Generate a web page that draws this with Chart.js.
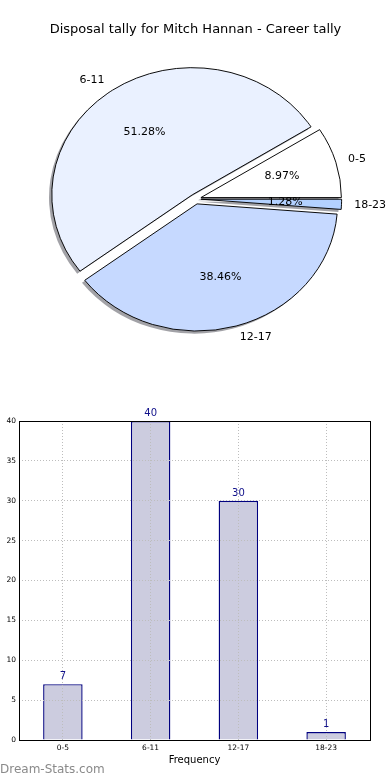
<!DOCTYPE html>
<html><head><meta charset="utf-8">
<script src="https://cdn.jsdelivr.net/npm/chart.js@4"></script>
<style>
html,body{margin:0;padding:0;background:#fff;width:390px;height:780px;overflow:hidden;}
#pieWrap{position:absolute;left:0;top:0;width:390px;height:400px;}
#barWrap{position:absolute;left:0;top:400px;width:390px;height:380px;}
#wm{position:absolute;left:0;top:762px;font:12px "DejaVu Sans";color:#8a8a8a;white-space:nowrap;}
</style></head><body>
<div id="pieWrap"><canvas id="pie"></canvas></div>
<div id="barWrap"><canvas id="bar"></canvas></div>
<div id="wm"></div>
<script>
// ---- data ----
const chartTitle = 'Disposal tally for Mitch Hannan - Career tally';
const categories = ['0-5', '6-11', '12-17', '18-23'];
const counts = [7, 40, 30, 1];
const yTickValues = [0, 5, 10, 15, 20, 25, 30, 35, 40];
const xAxisTitle = 'Frequency';
const watermark = 'Dream-Stats.com';

// ---- styles ----
const pieColors = ['#ffffff', '#eaf1ff', '#c6d9ff', '#b3d1ff'];
const FONT = 'DejaVu Sans';
const EXPLODE = 0.04;
const SY = 0.905;         // vertical squash of the pie (ellipse)
const SHX = -2.8, SHY = 2.6;
const SHADOW = 'rgba(70,70,80,0.5)';

document.getElementById('wm').textContent = watermark;

const total = counts.reduce((a, b) => a + b, 0);
const rev = [3, 2, 1, 0]; // matplotlib draws counter-clockwise from east

function pieCenter(chart) {
  const a = chart.chartArea;
  return {x: (a.left + a.right) / 2, y: (a.top + a.bottom) / 2};
}
function applyEllipse(ctx, c) {
  ctx.translate(c.x, c.y); ctx.scale(1, SY); ctx.translate(-c.x, -c.y);
}

const pieFx = {
  id: 'pieFx',
  afterDatasetUpdate(chart, args) {
    args.meta.data.forEach(el => {
      const m = (el.startAngle + el.endAngle) / 2;
      const d = EXPLODE * el.outerRadius;
      el.x += d * Math.cos(m);
      el.y += d * Math.sin(m);
    });
  },
  beforeDatasetsDraw(chart) {
    const ctx = chart.ctx;
    const c = pieCenter(chart);
    const meta = chart.getDatasetMeta(0);
    meta.data.forEach(el => {
      ctx.save();
      ctx.translate(SHX, SHY);
      applyEllipse(ctx, c);
      const o = el.options;
      el.options = Object.assign({}, o, {backgroundColor: SHADOW, borderColor: 'rgba(0,0,0,0)', borderWidth: 0});
      el.draw(ctx);
      el.options = o;
      ctx.restore();
    });
    ctx.save();
    applyEllipse(ctx, c);
  },
  afterDatasetsDraw(chart) {
    const ctx = chart.ctx;
    ctx.restore();
    const c = pieCenter(chart);
    const meta = chart.getDatasetMeta(0);
    ctx.save();
    ctx.fillStyle = '#000';
    ctx.font = '11px "' + FONT + '"';
    ctx.textBaseline = 'middle';
    meta.data.forEach((el, k) => {
      const i = rev[k];
      const m = (el.startAngle + el.endAngle) / 2;
      const r = el.outerRadius;
      const cs = Math.cos(m), sn = Math.sin(m);
      const P = f => ({x: el.x + f * r * cs, y: c.y + (el.y + f * r * sn - c.y) * SY});
      const p1 = P(0.6);
      ctx.textAlign = 'center';
      ctx.fillText((counts[i] / total * 100).toFixed(2) + '%', p1.x, p1.y);
      const p2 = P(cs > 0 ? 1.09 : 1.1);
      ctx.textAlign = cs > 0 ? 'left' : 'right';
      ctx.fillText(categories[i], p2.x, p2.y);
    });
    ctx.restore();
  }
};

new Chart(document.getElementById('pie'), {
  type: 'pie',
  data: {
    labels: rev.map(i => categories[i]),
    datasets: [{
      data: rev.map(i => counts[i]),
      backgroundColor: rev.map(i => pieColors[i]),
      borderColor: '#000',
      borderWidth: 1,
      radius: 140.5,
      rotation: 90,
      clip: false
    }]
  },
  options: {
    responsive: true, maintainAspectRatio: false, animation: false,
    events: [],
    layout: {padding: {left: 1, right: 0, top: 0, bottom: 39.6}},
    plugins: {
      legend: {display: false},
      tooltip: {enabled: false},
      title: {display: true, text: chartTitle, color: '#000',
        font: {family: FONT, size: 13, weight: 'normal'}, padding: {top: 22, bottom: 0}}
    }
  },
  plugins: [pieFx]
});

const barFx = {
  id: 'barFx',
  afterDraw(chart) {
    const ctx = chart.ctx;
    const a = chart.chartArea;
    ctx.save();
    ctx.strokeStyle = '#000';
    ctx.lineWidth = 1;
    const l = Math.round(a.left), t = Math.round(a.top), r = Math.round(a.right), b = Math.round(a.bottom);
    ctx.strokeRect(l + 0.5, t + 0.5, r - l, b - t);
    const meta = chart.getDatasetMeta(0);
    ctx.fillStyle = '#10108a';
    ctx.font = '10px "' + FONT + '"';
    ctx.textAlign = 'center';
    ctx.textBaseline = 'alphabetic';
    meta.data.forEach((el, i) => {
      ctx.fillText(String(counts[i]), el.x, el.y - 5);
    });
    ctx.restore();
  }
};

const gridStyle = {color: '#bdbdbd', lineWidth: 1, drawTicks: false, z: 1};
new Chart(document.getElementById('bar'), {
  type: 'bar',
  data: {
    labels: categories,
    datasets: [{
      data: counts,
      backgroundColor: '#ccccdf',
      borderColor: '#00007f',
      borderWidth: 1.4,
      barPercentage: 0.45,
      categoryPercentage: 1
    }]
  },
  options: {
    responsive: true, maintainAspectRatio: false, animation: false,
    events: [],
    layout: {padding: {left: 0, right: 20, top: 21, bottom: 0}},
    plugins: {legend: {display: false}, tooltip: {enabled: false}},
    scales: {
      x: {
        type: 'category', offset: true,
        grid: Object.assign({offset: false}, gridStyle),
        border: {display: false, dash: [1, 2]},
        ticks: {color: '#000', font: {family: FONT, size: 7.5}, padding: 4, maxRotation: 0},
        title: {display: true, text: xAxisTitle, color: '#000', font: {family: FONT, size: 10}, padding: {top: 0, bottom: 14}},
        afterFit(s) { s.height = 40; }
      },
      y: {
        min: 0, max: 40,
        grid: gridStyle,
        border: {display: false, dash: [1, 2]},
        ticks: {color: '#000', font: {family: FONT, size: 7.5}, padding: 3},
        afterBuildTicks(s) { s.ticks = yTickValues.map(v => ({value: v})); },
        afterFit(s) { s.width = 19; }
      }
    }
  },
  plugins: [barFx]
});
</script>
</body></html>
